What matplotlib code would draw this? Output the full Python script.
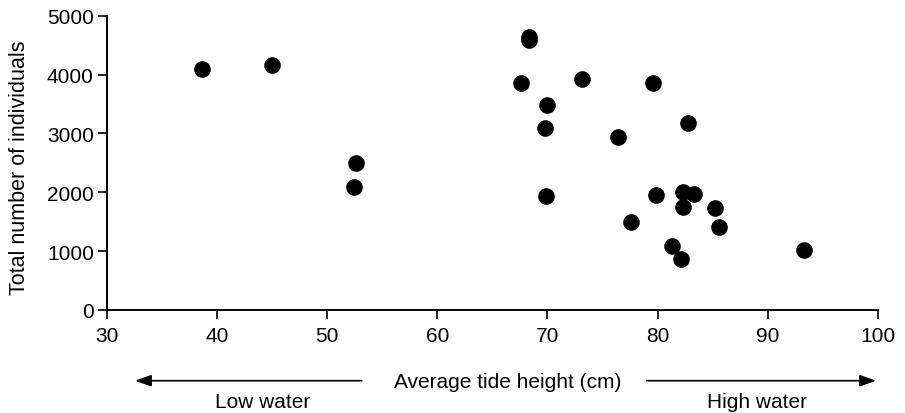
import numpy as np
import matplotlib
matplotlib.use('Agg')
import matplotlib.pyplot as plt

plt.rcParams['font.family'] = ['Liberation Sans', 'DejaVu Sans']

# tide height (cm) and total number of individuals
tide = [38.6, 45.0, 52.6, 52.4,
        68.3, 68.3, 67.6, 73.1, 79.6, 70.0, 69.8, 82.8, 76.4,
        69.9, 79.9, 82.3, 83.3, 82.3, 85.2, 77.6, 85.6, 81.3, 82.1, 93.3]
total = [4100, 4160, 2500, 2090,
         4640, 4580, 3860, 3920, 3850, 3480, 3100, 3180, 2940,
         1930, 1960, 2010, 1975, 1755, 1730, 1500, 1410, 1095, 870, 1020]

xticks = [30, 40, 50, 60, 70, 80, 90, 100]
yticks = [0, 1000, 2000, 3000, 4000, 5000]

fig = plt.figure(figsize=(9.05, 4.14), dpi=100)
ax = fig.add_axes([107 / 905, 1 - 311 / 414, (877.7 - 107) / 905, (311 - 16.7) / 414])

ax.scatter(tide, total, s=120, color='black', zorder=3, clip_on=False)

ax.set_xlim(30, 100)
ax.set_ylim(0, 5000)
ax.set_xticks(xticks)
ax.set_yticks(yticks)
ax.tick_params(labelsize=15, length=6.5, width=1.2, pad=3)
ax.tick_params(axis='x', pad=5)
for side in ['top', 'right']:
    ax.spines[side].set_visible(False)
for side in ['left', 'bottom']:
    ax.spines[side].set_linewidth(1.4)

fig.text(20 / 905, 1 - 168 / 414, 'Total number of individuals', fontsize=15.5,
         rotation=90, ha='center', va='center')

# x label with direction arrows underneath the axis
fig.text(507.5 / 905, 1 - 383 / 414, 'Average tide height (cm)', fontsize=15,
         ha='center', va='center')
fig.text(262.5 / 905, 1 - 403 / 414, 'Low water', fontsize=15, ha='center', va='center')
fig.text(757 / 905, 1 - 403 / 414, 'High water', fontsize=15, ha='center', va='center')

arrow = dict(arrowstyle='-|>,head_length=0.7,head_width=0.25', color='black',
             lw=1.2, mutation_scale=14, shrinkA=0, shrinkB=0)
ay = 1 - 381.7 / 414
fig.add_artist(matplotlib.patches.FancyArrowPatch((361.7 / 905, ay), (135 / 905, ay),
                                                  transform=fig.transFigure, **arrow))
fig.add_artist(matplotlib.patches.FancyArrowPatch((646.7 / 905, ay), (876 / 905, ay),
                                                  transform=fig.transFigure, **arrow))

fig.savefig('out.png', dpi=100)
